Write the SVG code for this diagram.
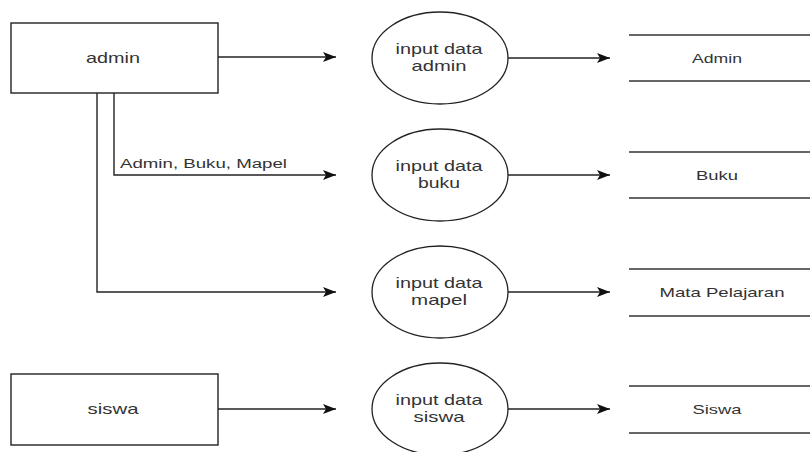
<svg xmlns="http://www.w3.org/2000/svg" width="810" height="452" viewBox="0 0 810 452">
<defs>
<marker id="arr" markerWidth="14" markerHeight="10" refX="13" refY="5" orient="auto" markerUnits="userSpaceOnUse">
<path d="M0,0 L13,5 L0,10 L3,5 Z" fill="#111"/>
</marker>
</defs>
<style>
.box{fill:#fff;stroke:#222;stroke-width:1.4}
.proc{fill:#fff;stroke:#222;stroke-width:1.3}
.store{stroke:#333;stroke-width:1.3}
.edge{fill:none;stroke:#222;stroke-width:1.4;marker-end:url(#arr)}
text{font-family:"Liberation Sans",Arial,sans-serif;fill:#333;text-anchor:middle}
.t15{font-size:15px}
.t13{font-size:13px}
.lbl{font-size:12px;text-anchor:start}
</style>
<rect width="810" height="452" fill="#fff"/>
<g id="connectors">
<path class="edge" d="M218,57 H336"/>
<path class="edge" d="M114,93 V175 H336"/>
<path class="edge" d="M97,93 V292 H336"/>
<path class="edge" d="M218,409 H336"/>
<path class="edge" d="M508,58 H610"/>
<path class="edge" d="M508,175 H610"/>
<path class="edge" d="M508,292 H610"/>
<path class="edge" d="M508,409 H610"/>
<text class="lbl" x="120" y="168" textLength="167" lengthAdjust="spacingAndGlyphs">Admin, Buku, Mapel</text>
</g>
<g id="admin">
<rect class="box" x="11" y="23" width="207" height="70"/>
<text class="t15" x="113" y="63" textLength="54" lengthAdjust="spacingAndGlyphs">admin</text>
</g>
<g id="siswa">
<rect class="box" x="11" y="374" width="207" height="71"/>
<text class="t15" x="113" y="414" textLength="51" lengthAdjust="spacingAndGlyphs">siswa</text>
</g>
<g id="p-admin">
<ellipse class="proc" cx="440" cy="58" rx="68" ry="46"/>
<text class="t15" x="439" y="54" textLength="87" lengthAdjust="spacingAndGlyphs">input data</text>
<text class="t15" x="439" y="71" textLength="55" lengthAdjust="spacingAndGlyphs">admin</text>
</g>
<g id="p-buku">
<ellipse class="proc" cx="440" cy="175" rx="68" ry="46"/>
<text class="t15" x="439" y="171" textLength="87" lengthAdjust="spacingAndGlyphs">input data</text>
<text class="t15" x="439" y="188" textLength="42" lengthAdjust="spacingAndGlyphs">buku</text>
</g>
<g id="p-mapel">
<ellipse class="proc" cx="440" cy="292" rx="68" ry="46"/>
<text class="t15" x="439" y="288" textLength="87" lengthAdjust="spacingAndGlyphs">input data</text>
<text class="t15" x="439" y="305" textLength="56" lengthAdjust="spacingAndGlyphs">mapel</text>
</g>
<g id="p-siswa">
<ellipse class="proc" cx="440" cy="409" rx="68" ry="46"/>
<text class="t15" x="439" y="405" textLength="87" lengthAdjust="spacingAndGlyphs">input data</text>
<text class="t15" x="439" y="422" textLength="51" lengthAdjust="spacingAndGlyphs">siswa</text>
</g>
<g id="s-admin">
<line class="store" x1="629" y1="35" x2="810" y2="35"/>
<line class="store" x1="629" y1="81" x2="810" y2="81"/>
<text class="t13" x="717" y="63" textLength="50" lengthAdjust="spacingAndGlyphs">Admin</text>
</g>
<g id="s-buku">
<line class="store" x1="629" y1="152" x2="810" y2="152"/>
<line class="store" x1="629" y1="198" x2="810" y2="198"/>
<text class="t13" x="717" y="180" textLength="42" lengthAdjust="spacingAndGlyphs">Buku</text>
</g>
<g id="s-mapel">
<line class="store" x1="629" y1="269" x2="810" y2="269"/>
<line class="store" x1="629" y1="316" x2="810" y2="316"/>
<text class="t13" x="722" y="297" textLength="125" lengthAdjust="spacingAndGlyphs">Mata Pelajaran</text>
</g>
<g id="s-siswa">
<line class="store" x1="629" y1="386" x2="810" y2="386"/>
<line class="store" x1="629" y1="433" x2="810" y2="433"/>
<text class="t13" x="717" y="414" textLength="49" lengthAdjust="spacingAndGlyphs">Siswa</text>
</g>
</svg>
